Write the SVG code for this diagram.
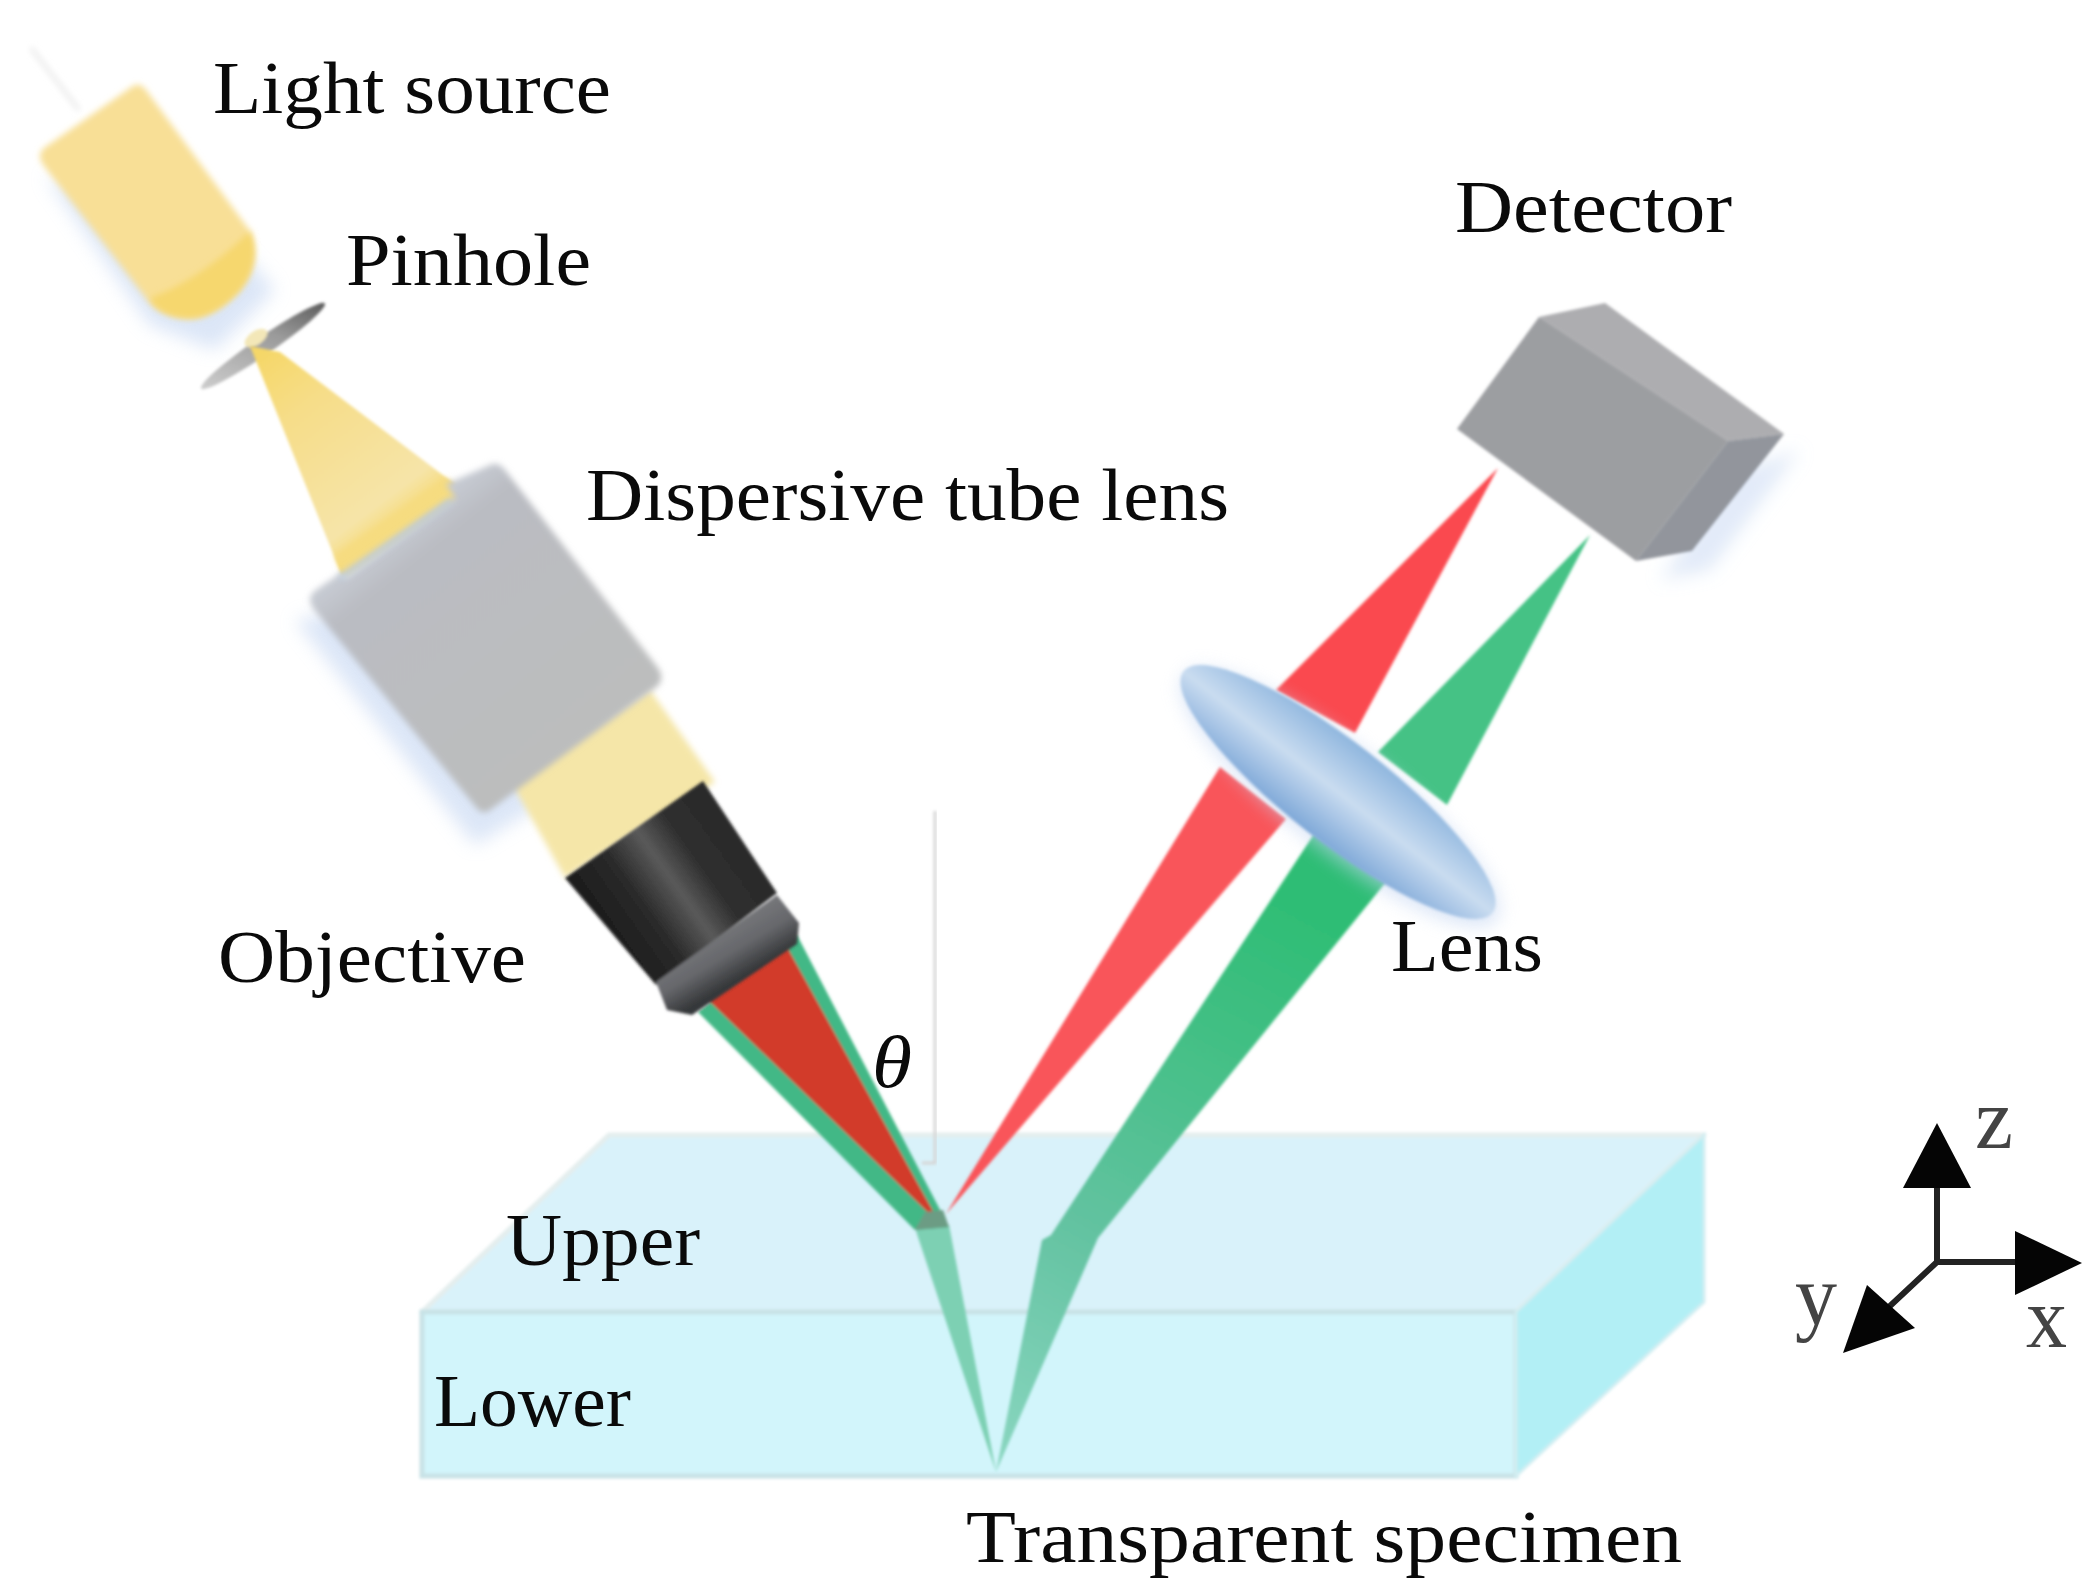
<svg xmlns="http://www.w3.org/2000/svg" width="2100" height="1596" viewBox="0 0 2100 1596">
<style>
text{font-family:"Liberation Serif","Times New Roman",serif;font-size:73px;fill:#0a0a0a}
.ax{font-size:87px;fill:#444}
.shadow{fill:#c4d6f2;opacity:.6;filter:url(#bigblur)}
.soft{filter:url(#blur)}
.softer{filter:url(#blur2)}
</style>
<defs>
<filter id="blur" x="-10%" y="-10%" width="120%" height="120%"><feGaussianBlur stdDeviation="1.6"/></filter>
<filter id="blur2" x="-10%" y="-10%" width="120%" height="120%"><feGaussianBlur stdDeviation="3"/></filter>
<filter id="bigblur" x="-30%" y="-30%" width="160%" height="160%"><feGaussianBlur stdDeviation="9"/></filter>
<linearGradient id="cone" gradientUnits="userSpaceOnUse" x1="265" y1="350" x2="400" y2="530"><stop offset="0" stop-color="#f5d768"/><stop offset=".3" stop-color="#f6dd88"/><stop offset=".85" stop-color="#f6e4a8"/><stop offset="1" stop-color="#f5d96f"/></linearGradient>
<linearGradient id="tube" gradientUnits="userSpaceOnUse" x1="400" y1="530" x2="575" y2="750"><stop offset="0" stop-color="#c6cad2"/><stop offset=".12" stop-color="#babcc2"/><stop offset="1" stop-color="#bcbdbd"/></linearGradient>
<linearGradient id="obj" gradientUnits="userSpaceOnUse" x1="590" y1="945" x2="745" y2="835"><stop offset="0" stop-color="#161616"/><stop offset=".35" stop-color="#2a2a2a"/><stop offset=".55" stop-color="#5a5a5a"/><stop offset=".72" stop-color="#2e2e2e"/><stop offset="1" stop-color="#2a2a2a"/></linearGradient>
<linearGradient id="band" gradientUnits="userSpaceOnUse" x1="715" y1="925" x2="745" y2="975"><stop offset="0" stop-color="#7a7b7e"/><stop offset=".55" stop-color="#66676b"/><stop offset="1" stop-color="#36383a"/></linearGradient>
<linearGradient id="pin" gradientUnits="userSpaceOnUse" x1="202" y1="388" x2="324" y2="304"><stop offset="0" stop-color="#d4d4d4"/><stop offset=".6" stop-color="#9a9a9a"/><stop offset="1" stop-color="#4d4d4d"/></linearGradient>
<linearGradient id="lens"  x1="0" y1="0" x2="0" y2="1"><stop offset="0" stop-color="#8fb6de"/><stop offset=".5" stop-color="#c9dcf0"/><stop offset="1" stop-color="#7ea8d8"/></linearGradient>
<linearGradient id="gr" gradientUnits="userSpaceOnUse" x1="1300" y1="900" x2="1000" y2="1470"><stop offset="0" stop-color="#2dbd74"/><stop offset=".25" stop-color="#42bf84"/><stop offset=".6" stop-color="#62c2a0"/><stop offset="1" stop-color="#8ad6c0"/></linearGradient>
</defs>

<g id="specimen" class="soft">
<polygon points="422,1312 609,1135 1704,1135 1516,1312" fill="#d9f2fa" stroke="#e4eeee" stroke-width="5" stroke-linejoin="round"/>
<polygon points="422,1312 1516,1312 1516,1476 422,1476" fill="#d2f5fb" stroke="#c8e2e6" stroke-width="5"/>
<polygon points="1516,1312 1704,1135 1704,1302 1516,1476" fill="#b2eff5" stroke="#d2eef2" stroke-width="3"/>
</g>

<g id="normal-line" class="soft">
<path d="M935,811V1163H922" fill="none" stroke="#d6d6d6" stroke-width="3"/>
</g>

<g id="connectors" class="soft">
<polygon points="915,1228 949,1225 996,1472" fill="#7dd0b3"/>
<polygon points="946,1214 1220,767 1286,819" fill="#f9545a"/>
<polygon points="1276,690 1355,733 1498,468" fill="#fa4a4f"/>
<polygon points="1051,1235 1314,834 1386,882 1098,1238 996,1472 1042,1240" fill="url(#gr)"/>
<polygon points="1378,752 1447,805 1590,535" fill="#45c285"/>
<polygon points="797,935 698,1012 915,1230 949,1227" fill="#42b886"/>
<polygon points="782,938 700,992 940,1224" fill="#d23a2a"/>
<polygon points="915,1230 925,1212 943,1210 949,1227" fill="#6c9c84"/>
</g>

<g id="light-source">
<polygon class="shadow" points="45,175 150,325 215,350 275,290 240,250"/>
<path class="softer" d="M31,48L79,110" stroke="#e4e4e4" stroke-width="3" fill="none"/>
<path class="softer" d="M133,86Q140,82 146,90L250,231Q262,262 240,290Q205,328 170,315Q155,310 148,301L44,166Q36,155 44,148Z" fill="#f8df96"/>
<path class="softer" d="M150,298Q200,280 250,231Q262,262 240,290Q205,328 170,315Q155,310 150,298Z" fill="#f6d76e"/>
</g>

<g id="pinhole" class="soft">
<ellipse cx="263" cy="346" rx="75" ry="9" transform="rotate(-34.5 263 346)" fill="url(#pin)"/>
<ellipse cx="256" cy="338" rx="13" ry="7" transform="rotate(-34.5 256 338)" fill="#f3e7b8"/>
</g>

<g id="tube-lens">
<polygon class="shadow" points="295,620 475,845 640,745 400,600"/>
<polygon class="soft" points="250,346 280,352 456,485 342,576" fill="url(#cone)"/>
<polygon class="softer" points="335,555 345,578 470,495 445,478" fill="#f6dc80"/>
<polygon class="softer" points="510,780 650,690 715,782 565,878" fill="#f5e6a8"/>
<path class="softer" d="M490,465Q498,461 505,470L658,668Q666,680 655,688L490,810Q482,816 475,806L316,612Q304,598 316,590L342,572L345,578L455,498L446,484Z" fill="url(#tube)"/>
<path class="softer" d="M340,578L452,500" stroke="#bccbdc" stroke-width="6" fill="none"/>
</g>

<g id="objective" class="soft">
<polygon points="703,781 565,878 656,985 777,893" fill="url(#obj)"/>
<polygon points="777,895 799,923 797,944 692,1015 667,1010 656,982" fill="url(#band)"/>
</g>

<g id="lens-element">
<ellipse cx="1340" cy="798" rx="198" ry="52" transform="rotate(38 1340 798)" fill="#c4d6f2" opacity=".6" filter="url(#bigblur)"/>
<ellipse class="soft" cx="1338" cy="792" rx="196" ry="50" transform="rotate(38 1338 792)" fill="url(#lens)"/>
</g>

<g id="detector" class="soft">
<polygon points="1660,580 1710,570 1800,450 1740,470" fill="#c4d6f2" opacity=".5" filter="url(#bigblur)"/>
<polygon points="1539,317 1605,303 1784,434 1728,441" fill="#adadb0"/>
<polygon points="1728,441 1784,434 1692,551 1636,561" fill="#92959c"/>
<polygon points="1539,317 1457,429 1636,561 1728,441" fill="#9c9ea1"/>
</g>

<g id="axes">
<path d="M1937,1262V1180M1937,1262H2025M1937,1262L1875,1320" stroke="#222" stroke-width="6" fill="none"/>
<polygon points="1937,1123 1971,1188 1903,1188" fill="#050505"/>
<polygon points="2082,1263 2015,1231 2015,1295" fill="#050505"/>
<polygon points="1843,1353 1867,1285 1915,1328" fill="#050505"/>
<text class="ax" x="1975" y="1148" textLength="38" lengthAdjust="spacingAndGlyphs">z</text>
<text class="ax" x="2026" y="1347" textLength="41" lengthAdjust="spacingAndGlyphs">x</text>
<text class="ax" x="1795" y="1324" textLength="42" lengthAdjust="spacingAndGlyphs">y</text>
</g>

<g id="labels">
<text x="213" y="113" textLength="398" lengthAdjust="spacingAndGlyphs">Light source</text>
<text x="346" y="285" textLength="245" lengthAdjust="spacingAndGlyphs">Pinhole</text>
<text x="586" y="520" textLength="643" lengthAdjust="spacingAndGlyphs">Dispersive tube lens</text>
<text x="1455" y="232" textLength="277" lengthAdjust="spacingAndGlyphs">Detector</text>
<text x="218" y="982" textLength="308" lengthAdjust="spacingAndGlyphs">Objective</text>
<text x="1391" y="971" textLength="152" lengthAdjust="spacingAndGlyphs">Lens</text>
<text x="872" y="1087" font-style="italic" font-size="68" textLength="40" lengthAdjust="spacingAndGlyphs">θ</text>
<text x="506" y="1265" textLength="194" lengthAdjust="spacingAndGlyphs">Upper</text>
<text x="434" y="1426" textLength="197" lengthAdjust="spacingAndGlyphs">Lower</text>
<text x="966" y="1562" textLength="716" lengthAdjust="spacingAndGlyphs">Transparent specimen</text>
</g>
</svg>
